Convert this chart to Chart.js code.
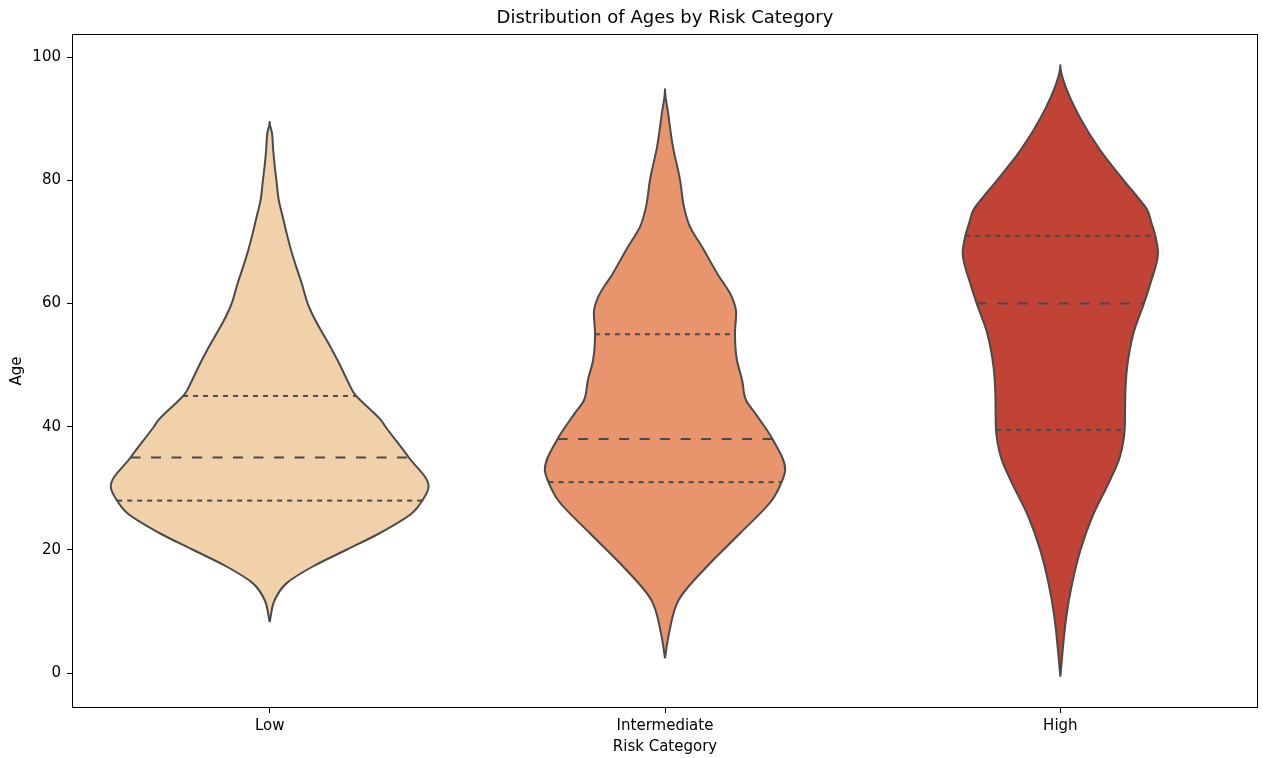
<!DOCTYPE html>
<html>
<head>
<meta charset="utf-8">
<title>Distribution of Ages by Risk Category</title>
<script src="https://cdn.jsdelivr.net/npm/chart.js@4.4.1/dist/chart.umd.min.js"></script>
<style>
  html, body { margin: 0; padding: 0; background: #ffffff; }
  #chart { display: block; width: 1263px; height: 758px; }
</style>
</head>
<body>
<canvas id="chart" width="1263" height="758"></canvas>
<script>
// Risk categories along the x axis
const categories = ['Low', 'Intermediate', 'High'];

// Density profiles: age values and the violin half-width (in category units) at each age
const lowAges   = [8.3, 11.9, 14.6, 17.3, 20.1, 22.7, 25.9, 28.1, 30.3, 35.0, 40.0, 41.1, 43.25, 45.2, 47.05, 49.75, 52.46, 55.17, 57.87, 60.04, 63.3, 66.0, 68.7, 71.4, 74.1, 76.8, 80.07, 82.2, 84.9, 87.65, 89.5];
const lowWidths = [0, 0.013, 0.043, 0.109, 0.197, 0.278, 0.359, 0.387, 0.402, 0.352, 0.293, 0.281, 0.247, 0.216, 0.200, 0.180, 0.158, 0.134, 0.111, 0.096, 0.081, 0.067, 0.054, 0.043, 0.033, 0.023, 0.017, 0.013, 0.009, 0.006, 0];

const intermediateAges   = [2.4, 6.4, 11.9, 17.3, 22.7, 28.1, 31.2, 33.0, 38.1, 42.2, 44.3, 47.6, 50.8, 55.2, 58.4, 61.1, 64.9, 69.2, 72.5, 75.7, 80.1, 85.5, 90.9, 94.8];
const intermediateWidths = [0, 0.010, 0.035, 0.106, 0.190, 0.271, 0.296, 0.304, 0.271, 0.228, 0.205, 0.195, 0.182, 0.177, 0.180, 0.169, 0.132, 0.094, 0.063, 0.048, 0.038, 0.020, 0.008, 0];

const highAges   = [-0.6, 3.7, 9.1, 14.6, 20.0, 25.4, 30.8, 34.4, 36.2, 39.7, 44.3, 49.7, 55.2, 60.1, 63.3, 68.2, 71.1, 73.0, 75.2, 77.4, 79.5, 84.9, 90.4, 95.8, 98.7];
const highWidths = [0, 0.006, 0.015, 0.030, 0.051, 0.081, 0.122, 0.147, 0.155, 0.163, 0.164, 0.169, 0.185, 0.212, 0.228, 0.247, 0.240, 0.231, 0.220, 0.194, 0.167, 0.101, 0.048, 0.010, 0];

// Quartiles per category: [Q1, median, Q3]
const lowQuartiles          = [28, 35, 45];
const intermediateQuartiles = [31, 38, 55];
const highQuartiles         = [39.5, 60, 71];

// Y axis tick values
const yTicks = [0, 20, 40, 60, 80, 100];

const fillColors = ['#f1d1aa', '#e8946d', '#c04336'];
const outlineColor = '#4a4a4a';
const fontFamily = "'DejaVu Sans', 'Liberation Sans', sans-serif";

const profiles = [
  { ages: lowAges, widths: lowWidths, quartiles: lowQuartiles },
  { ages: intermediateAges, widths: intermediateWidths, quartiles: intermediateQuartiles },
  { ages: highAges, widths: highWidths, quartiles: highQuartiles }
];

// Closed outline: up the right side, back down the left side
function violinOutline(center, ages, widths) {
  const pts = [];
  for (let i = 0; i < ages.length; i++) pts.push({ x: center + widths[i], y: ages[i] });
  for (let i = ages.length - 2; i >= 0; i--) pts.push({ x: center - widths[i], y: ages[i] });
  return pts;
}

// Half-width of the density profile at a given age
function widthAt(ages, widths, age) {
  for (let i = 1; i < ages.length; i++) {
    if (age <= ages[i]) {
      const t = (age - ages[i - 1]) / (ages[i] - ages[i - 1]);
      return widths[i - 1] + t * (widths[i] - widths[i - 1]);
    }
  }
  return 0;
}

const datasets = [];

// Quartile lines (drawn above the violins)
profiles.forEach((p, i) => {
  p.quartiles.forEach((q, k) => {
    const w = widthAt(p.ages, p.widths, q);
    const isMedian = k === 1;
    datasets.push({
      type: 'line',
      data: [{ x: i - w, y: q }, { x: i + w, y: q }],
      borderColor: outlineColor,
      borderWidth: 2,
      borderDash: isMedian ? [10, 10.5] : [5, 5],
      borderCapStyle: 'butt',
      pointRadius: 0,
      fill: false,
      tension: 0,
      order: 0
    });
  });
});

// Violin bodies, smoothed along the age axis
profiles.forEach((p, i) => {
  datasets.push({
    type: 'line',
    indexAxis: 'y',
    data: violinOutline(i, p.ages, p.widths),
    borderColor: outlineColor,
    backgroundColor: fillColors[i],
    borderWidth: 2,
    borderJoinStyle: 'round',
    pointRadius: 0,
    fill: 'shape',
    cubicInterpolationMode: 'monotone',
    order: 1
  });
});

// Full box around the plotting area
const frame = {
  id: 'frame',
  afterDatasetsDraw(chart) {
    const { ctx, chartArea: a } = chart;
    ctx.save();
    ctx.strokeStyle = '#000000';
    ctx.lineWidth = 1;
    ctx.strokeRect(Math.round(a.left) + 0.5, Math.round(a.top) + 0.5,
                   Math.round(a.right - a.left) - 1, Math.round(a.bottom - a.top) - 1);
    ctx.restore();
  }
};

new Chart(document.getElementById('chart'), {
  type: 'scatter',
  data: { datasets },
  options: {
    responsive: false,
    animation: false,
    layout: { padding: { left: 0, right: 5, top: 0, bottom: 0 } },
    plugins: {
      legend: { display: false },
      tooltip: { enabled: false },
      title: {
        display: true,
        fullSize: false,
        text: 'Distribution of Ages by Risk Category',
        color: '#000000',
        font: { family: fontFamily, size: 18, weight: 'normal' },
        padding: { top: 7.7, bottom: 4.7 }
      }
    },
    scales: {
      x: {
        type: 'linear',
        min: -0.5,
        max: 2.5,
        afterBuildTicks(scale) { scale.ticks = categories.map((_, i) => ({ value: i })); },
        afterFit(scale) { scale.height = 50; },
        ticks: {
          color: '#000000',
          padding: 4.5,
          font: { family: fontFamily, size: 15 },
          callback: (v) => categories[v]
        },
        grid: { display: true, drawOnChartArea: false, drawTicks: true, tickLength: 5, tickColor: '#000000' },
        border: { display: false },
        title: {
          display: true,
          text: 'Risk Category',
          color: '#000000',
          font: { family: fontFamily, size: 15 },
          padding: { top: 0, bottom: 2 }
        }
      },
      y: {
        type: 'linear',
        min: -5.68,
        max: 103.78,
        afterBuildTicks(scale) { scale.ticks = yTicks.map(v => ({ value: v })); },
        afterFit(scale) { scale.width = 72; },
        ticks: {
          color: '#000000',
          padding: 6,
          font: { family: fontFamily, size: 15 }
        },
        grid: { display: true, drawOnChartArea: false, drawTicks: true, tickLength: 5, tickColor: '#000000' },
        border: { display: false },
        title: {
          display: true,
          text: 'Age',
          color: '#000000',
          font: { family: fontFamily, size: 15 },
          padding: { top: 8.5, bottom: 0 }
        }
      }
    }
  },
  plugins: [frame]
});
</script>
</body>
</html>
